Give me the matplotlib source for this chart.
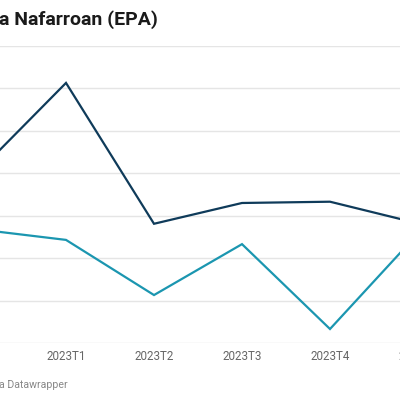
import matplotlib
matplotlib.use("Agg")
import matplotlib.pyplot as plt

# quarters; first and last ones fall partly outside the visible crop
quarters = ["2022T4", "2023T1", "2023T2", "2023T3", "2023T4", "2024T1"]
series_dark = [4.03, 6.13, 2.81, 3.30, 3.33, 2.82]
series_teal = [2.68, 2.43, 1.13, 2.33, 0.33, 2.58]
grid_values = [0, 1, 2, 3, 4, 5, 6, 7]

plt.rcParams["font.family"] = ["Roboto", "DejaVu Sans"]

W, H = 400, 400
fig = plt.figure(figsize=(4, 4), dpi=100)

# axes are wider than the figure: the reference is a crop of a wider chart
left_px, right_px = -22, 418
top_px, bottom_px = 46, 343
ax = fig.add_axes([left_px / W, (H - bottom_px) / H,
                   (right_px - left_px) / W, (bottom_px - top_px) / H])

x = list(range(len(quarters)))
ax.plot(x, series_dark, color="#0f3b5a", lw=1.6, solid_joinstyle="miter", zorder=3)
ax.plot(x, series_teal, color="#1b96b0", lw=1.6, solid_joinstyle="miter", zorder=3)

ax.set_xlim(0, len(quarters) - 1)
ax.set_ylim(grid_values[0], grid_values[-1])
ax.set_yticks(grid_values)
ax.set_yticklabels([])
ax.set_xticks(x)
ax.set_xticklabels(quarters, fontsize=8.4, color="#666666")
ax.tick_params(axis="both", length=0)
ax.tick_params(axis="x", pad=5)
ax.grid(axis="y", color="#e5e5e5", lw=1)
for s in ax.spines.values():
    s.set_visible(False)

fig.text(158 / W, 1 - 20 / H, "Langabezia-tasa Euskadin eta Nafarroan (EPA)",
         ha="right", va="center", fontsize=14, fontweight="bold", color="#1a1a1a")
fig.text(68 / W, 1 - 385 / H, "Iturria: Eustat eta INE. Sortua Datawrapper",
         ha="right", va="center", fontsize=7.6, color="#888888")

fig.savefig("out.png", dpi=100)
